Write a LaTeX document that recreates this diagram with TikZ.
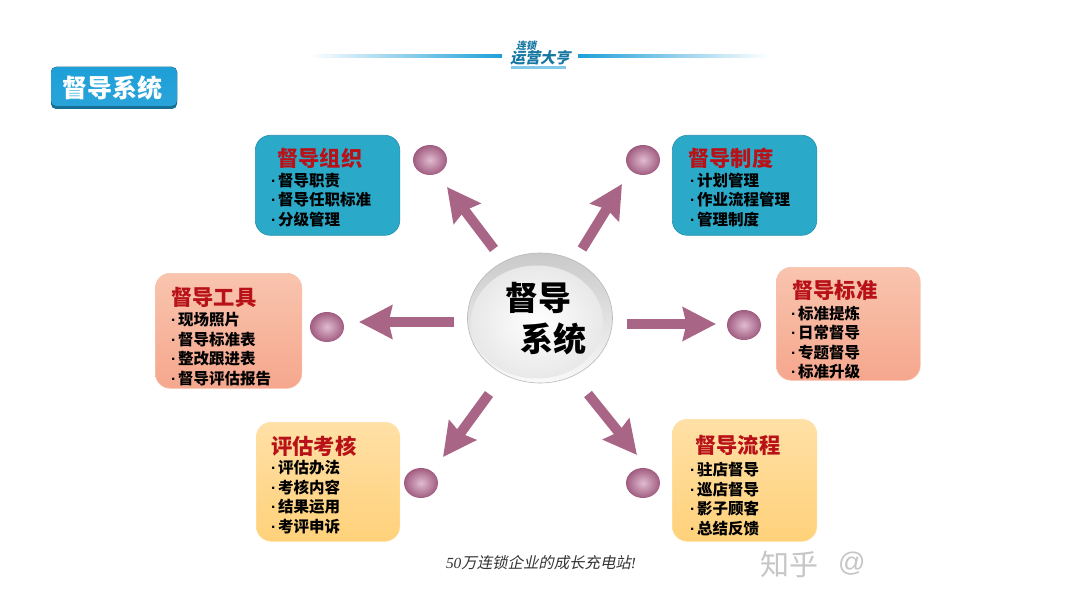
\documentclass[tikz,border=0pt]{standalone}
\usepackage{fontspec}
\setmainfont{Liberation Sans}
\newfontfamily\cjk{Noto Sans CJK SC}
\newfontfamily\cjkit[FakeSlant=0.22]{Noto Sans CJK SC}
\newfontfamily\latit{Liberation Serif Italic}
\usetikzlibrary{arrows.meta,shapes.geometric}
\definecolor{plum}{HTML}{A96585}
\definecolor{plumdark}{HTML}{A05C80}
\definecolor{plumlight}{HTML}{E0BBD0}
\definecolor{tealbox}{HTML}{2BA9C9}
\definecolor{redtitle}{HTML}{B81218}
\definecolor{logoblue}{HTML}{1E9FD8}
\definecolor{orgtop}{HTML}{F9C4AE}
\definecolor{orgbot}{HTML}{F5A78D}
\definecolor{yeltop}{HTML}{FFE0A6}
\definecolor{yelbot}{HTML}{FFD17A}
\newcommand{\bl}{\makebox[7pt][l]{\rmfamily\bfseries ·}}
\tikzset{
  x=1pt,y=-1pt,
  infobox/.style={line width=.6pt,rounded corners=15pt,anchor=north west,inner sep=0pt},
  tealstyle/.style={infobox,draw=tealbox!85!black,fill=tealbox},
  orgstyle/.style={infobox,draw=orgbot!70!white,top color=orgtop,bottom color=orgbot},
  yelstyle/.style={infobox,draw=yelbot!70!white,top color=yeltop,bottom color=yelbot},
  titletext/.style={font=\cjk\bfseries\fontsize{21.3}{23}\selectfont,text=redtitle,anchor=west,inner sep=0pt},
  itemtext/.style={font=\cjk\bfseries\fontsize{15.5}{19.5}\selectfont,text=black,anchor=north west,align=left,inner sep=0pt},
  dot/.style={ellipse,minimum width=34pt,minimum height=30pt,inner sep=0pt,draw=none,inner color=plumlight,outer color=plumdark},
  bigarrow/.style={draw=plum,line width=10pt,-{Stealth[length=33pt,width=33pt,inset=3.5pt]}},
}
\begin{document}
\begin{tikzpicture}
\useasboundingbox (0,0) rectangle (1080,607);
\fill[white] (0,0) rectangle (1080,607);

% header
\fill[left color=white,right color=logoblue] (310,55) rectangle (502,57.5);
\fill[left color=logoblue,right color=white] (578,55) rectangle (768,57.5);
\node[inner sep=0pt,text=logoblue!75!black,font=\cjkit\bfseries\fontsize{10}{10}\selectfont] (logoa) at (526,46) {连锁};
\node[inner sep=0pt,text=logoblue!75!black,font=\cjkit\bfseries\fontsize{15}{15}\selectfont] (logob) at (540,58) {运营大亨};
\fill[logoblue!55] (511,66.5) rectangle (566,69);

% heading tab
\fill[rounded corners=5pt,fill=logoblue!70!black] (51,67) rectangle (177,109);
\fill[rounded corners=5pt,top color=logoblue,bottom color=logoblue!95!white] (51,67) rectangle (177,106);
\node[inner sep=0pt,text=white,font=\cjk\bfseries\fontsize{25}{26}\selectfont] (headtab) at (112.5,87.5) {督导系统};

% boxes
\node[tealstyle,minimum width=144.5pt,minimum height=100pt] (b1) at (255,135) {};
\node[tealstyle,minimum width=144.5pt,minimum height=100pt] (b2) at (672,135) {};
\node[orgstyle,minimum width=146.5pt,minimum height=115pt] (b3) at (155,273) {};
\node[orgstyle,minimum width=144pt,minimum height=113pt] (b4) at (776,267) {};
\node[yelstyle,minimum width=143.5pt,minimum height=119pt] (b5) at (256,422) {};
\node[yelstyle,minimum width=144.5pt,minimum height=122pt] (b6) at (672,419) {};

\node[titletext] (t1) at (277,158) {督导组织};
\node[itemtext] (i1) at (271,173) {\bl 督导职责\\\bl 督导任职标准\\\bl 分级管理};
\node[titletext] (t2) at (688,158) {督导制度};
\node[itemtext] (i2) at (690,172.5) {\bl 计划管理\\\bl 作业流程管理\\\bl 管理制度};
\node[titletext] (t3) at (171,297) {督导工具};
\node[itemtext] (i3) at (171,312.5) {\bl 现场照片\\\bl 督导标准表\\\bl 整改跟进表\\\bl 督导评估报告};
\node[titletext] (t4) at (792,290) {督导标准};
\node[itemtext] (i4) at (791,306) {\bl 标准提炼\\\bl 日常督导\\\bl 专题督导\\\bl 标准升级};
\node[titletext] (t5) at (271,446) {评估考核};
\node[itemtext] (i5) at (271,460.5) {\bl 评估办法\\\bl 考核内容\\\bl 结果运用\\\bl 考评申诉};
\node[titletext] (t6) at (695,445) {督导流程};
\node[itemtext] (i6) at (690,462) {\bl 驻店督导\\\bl 巡店督导\\\bl 影子顾客\\\bl 总结反馈};

% hub
\node[ellipse,minimum width=145pt,minimum height=130pt,inner sep=0pt,draw=gray!55,line width=.6pt,
  top color=gray!42,bottom color=gray!5] (hub) at (540,318) {};
\node[ellipse,minimum width=132pt,minimum height=113pt,inner sep=0pt,inner color=white,outer color=gray!18] (hubin) at (537,322) {};
\node[inner sep=0pt,font=\cjk\bfseries\fontsize{33}{34}\selectfont] (hubt1) at (538,298) {督导};
\node[inner sep=0pt,font=\cjk\bfseries\fontsize{33}{34}\selectfont] (hubt2) at (553,339) {系统};

% dots
\node[dot] (d1) at (430,160) {};
\node[dot] (d2) at (643,160) {};
\node[dot] (d3) at (327,327) {};
\node[dot] (d4) at (744,325) {};
\node[dot] (d5) at (421,483) {};
\node[dot] (d6) at (643,483) {};

% arrows
\coordinate (a1s) at (494,249); \coordinate (a1e) at (447,187);
\coordinate (a2s) at (582,249); \coordinate (a2e) at (622,184);
\coordinate (a3s) at (454,322); \coordinate (a3e) at (359,322);
\coordinate (a4s) at (627,324); \coordinate (a4e) at (716,324);
\coordinate (a5s) at (489,394); \coordinate (a5e) at (443,457);
\coordinate (a6s) at (588,394); \coordinate (a6e) at (637,455);
\foreach \n in {1,...,6} \draw[bigarrow] (a\n s) -- (a\n e);

% footer
\node[inner sep=0pt,text=black!80,font=\fontsize{15.4}{17}\selectfont] (foot) at (541,563)
  {{\latit 50}{\cjkit 万连锁企业的成长充电站}{\latit !}};
\node[inner sep=0pt,text=gray!45,font=\cjk\fontsize{29}{30}\selectfont,anchor=west] (wm) at (760,564) {知乎};
\node[inner sep=0pt,text=gray!45,font=\fontsize{27}{30}\selectfont,anchor=west] (wm2) at (838,564) {@};
\end{tikzpicture}
\end{document}
